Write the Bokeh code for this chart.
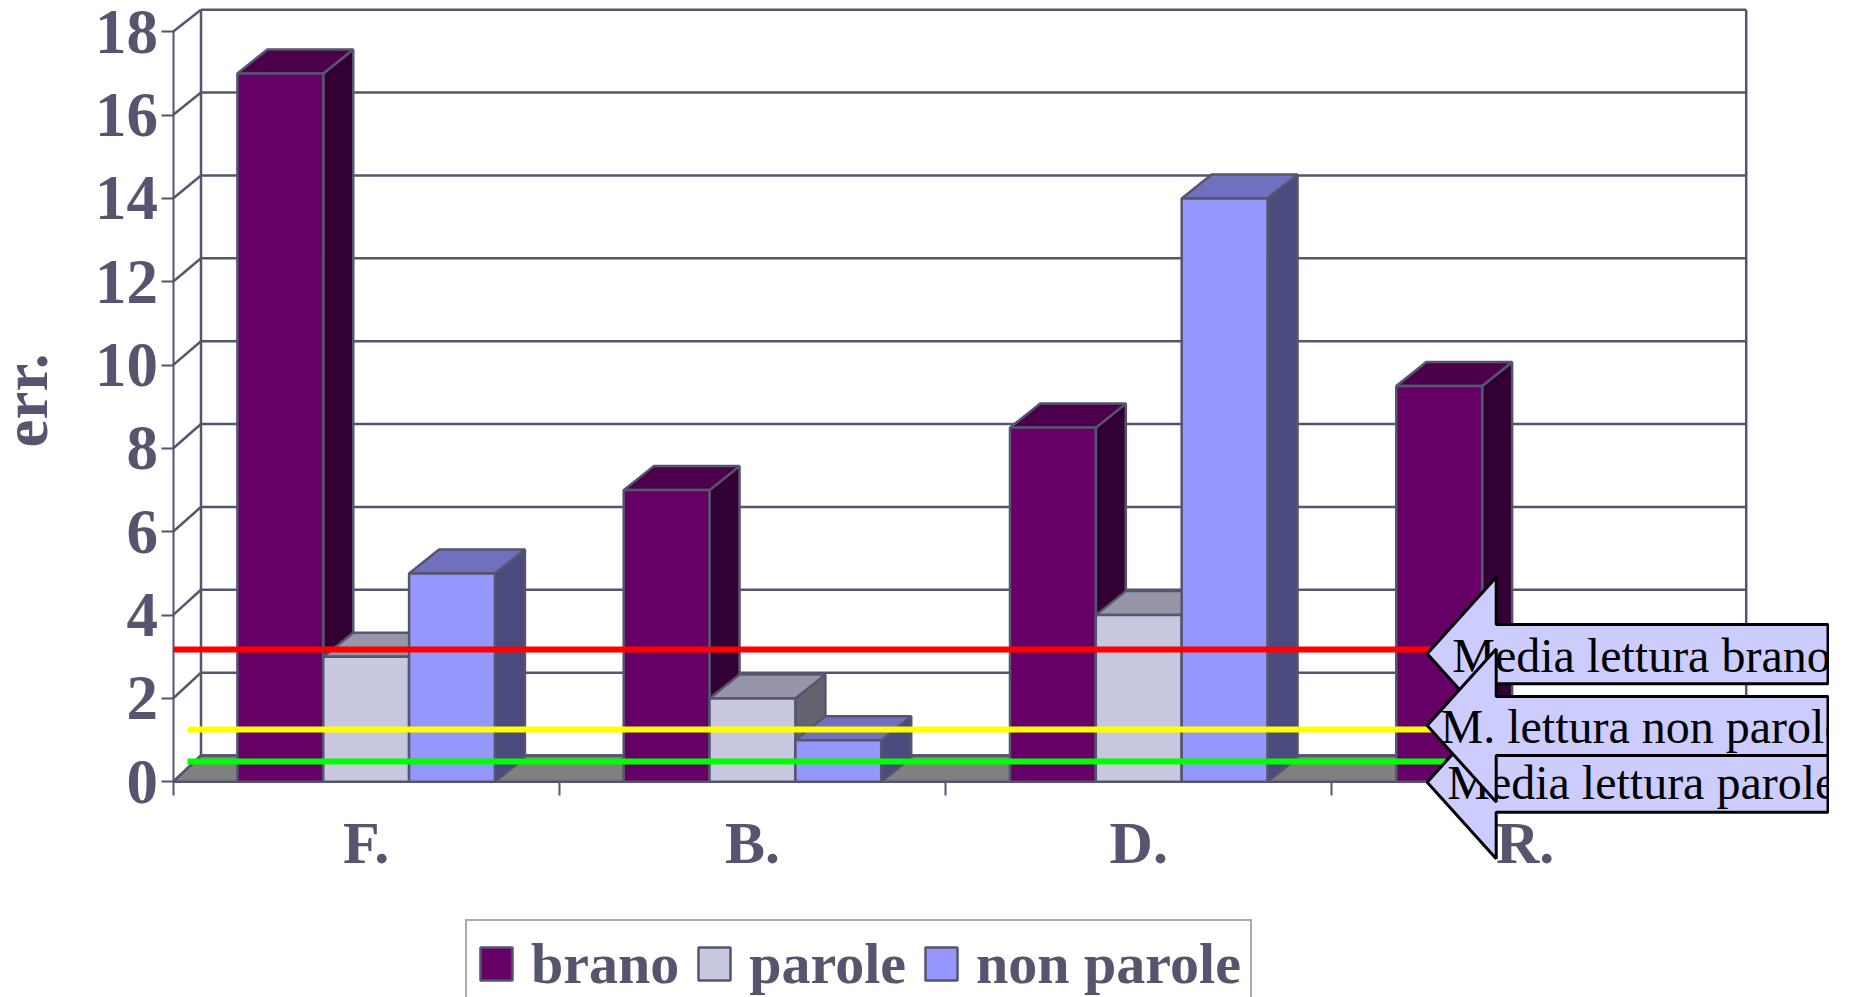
import math
from bokeh.plotting import figure
from bokeh.models import FixedTicker, Legend, LegendItem, Range1d
from bokeh.core.properties import value
from bokeh.embed import file_html
from bokeh.resources import INLINE

categories = ["F.", "B.", "D.", "R."]
series_names = ["brano", "parole", "non parole"]
brano = [17, 7, 8.5, 9.5]
parole = [3, 2, 4, 0]
non_parole = [5, 1, 14, 0]
y_ticks = list(range(0, 20, 2))
y_title = "err."
ref_names = ["Media lettura brano", "M. lettura non parole", "Media lettura parole"]
ref_values = [3.175, 1.255, 0.487]
ref_colors = ["#FF0000", "#FFFF00", "#00FF00"]
front_colors = ["#660066", "#C7C7DF", "#9696FF"]
top_colors = ["#4C004C", "#9696A8", "#7070BF"]
side_colors = ["#330033", "#646470", "#4B4B7F"]
INK = "#55556F"
FONT = "Liberation Serif"

# pixel frame of the page -> data scale
PX_X0, PX_Y0, PX_PER_CAT, PX_PER_VAL = 172.5, 781.3, 386.3, 41.67
W, H = 1829, 997
def dx(px): return px / PX_PER_CAT
def dy(px): return px / PX_PER_VAL
def X(px): return (px - PX_X0) / PX_PER_CAT
def Y(px): return (PX_Y0 - px) / PX_PER_VAL

p = figure(width=W, height=H, output_backend="svg", toolbar_location=None,
           x_range=Range1d(X(0), X(W)), y_range=Range1d(Y(H), Y(0)),
           min_border=0, outline_line_color=None, background_fill_color="white",
           border_fill_color="white")
p.grid.visible = False

# axes
ya = p.yaxis[0]
xa = p.xaxis[0]
ya.fixed_location = 0
ya.bounds = (0, 18)
ya.ticker = FixedTicker(ticks=y_ticks, minor_ticks=[])
ya.major_tick_in = 0
ya.major_tick_out = 12
ya.major_label_standoff = 3
for a in (ya, xa):
    a.level = "underlay"
    a.axis_line_color = INK
    a.axis_line_width = 2
    a.major_tick_line_color = INK
    a.major_tick_line_width = 2
    a.major_label_text_color = INK
    a.major_label_text_font = FONT
    a.major_label_text_font_style = "bold"
    a.major_label_text_font_size = "60px"
ya.major_label_text_font_size = "63px"
xa.fixed_location = 0
xa.bounds = (0, 4)
centers = [i + 0.5 for i in range(len(categories))]
xa.ticker = FixedTicker(ticks=centers, minor_ticks=list(range(len(categories) + 1)))
xa.major_label_overrides = {c: n for c, n in zip(centers, categories)}
xa.major_tick_in = 0
xa.major_tick_out = 0
xa.minor_tick_in = 0
xa.minor_tick_out = 14
xa.minor_tick_line_color = INK
xa.minor_tick_line_width = 2
xa.major_label_standoff = 14

p.text([X(25)], [Y(400)], text=[y_title], angle=math.pi / 2, text_font=value(FONT),
       text_font_style="bold", text_font_size="63px", text_color=INK,
       text_align="center", text_baseline="middle")

# back walls and floor (depth offset in pixels)
wall_dx = dx(28)
def back(v):
    return 0.631 + 0.9943 * v
xr = len(categories)
p.patch([0, wall_dx, xr + wall_dx, xr], [0, back(0), back(0), 0],
        fill_color="#808080", line_color=INK, line_width=2.5)
p.segment([wall_dx] * len(y_ticks), [back(v) for v in y_ticks],
          [xr + wall_dx] * len(y_ticks), [back(v) for v in y_ticks],
          line_color=INK, line_width=2.5)
p.segment([0] * len(y_ticks), y_ticks, [wall_dx] * len(y_ticks), [back(v) for v in y_ticks],
          line_color=INK, line_width=2.5)
p.segment([wall_dx, xr + wall_dx], [back(0)] * 2, [wall_dx, xr + wall_dx], [back(18)] * 2,
          line_color=INK, line_width=2.5)

# bars
bar_w = 2 / 9
gap = 1 / 6
bdx, bdy = dx(30), dy(24)
items = []
for j, (name, vals) in enumerate(zip(series_names, [brano, parole, non_parole])):
    lefts = [i + gap + j * bar_w for i in range(len(vals))]
    rights = [l + bar_w for l in lefts]
    p.patches([[r, r + bdx, r + bdx, r] for r in rights],
              [[0, bdy, v + bdy, v] for v in vals],
              fill_color=side_colors[j], line_color=INK, line_width=2.5)
    p.patches([[l, r, r + bdx, l + bdx] for l, r in zip(lefts, rights)],
              [[v, v, v + bdy, v + bdy] for v in vals],
              fill_color=top_colors[j], line_color=INK, line_width=2.5)
    front = p.quad(left=lefts, right=rights, bottom=[0] * len(vals), top=vals,
                   fill_color=front_colors[j], line_color=INK, line_width=2.5)
    items.append(LegendItem(label=name, renderers=[front]))

# reference lines
line_starts = [0.0, X(187), X(187)]
for v, c, s in zip(ref_values, ref_colors, line_starts):
    p.line([s, X(1445)], [v, v], line_color=c, line_width=6)

# callouts: brano first, parole next, non parole on top
def callout(tip_y, top, bottom, txt, tx, baseline):
    tip = X(1426.7)
    base = X(1495.7)
    end = X(1827.5)
    half = 76.5
    xs = [tip, base, base, end, end, base, base]
    ys = [Y(tip_y), Y(tip_y - half), Y(top), Y(top), Y(bottom), Y(bottom), Y(tip_y + half)]
    p.patch(xs, ys, fill_color="#CCCCFF", line_color="black", line_width=3)
    p.text([X(tx)], [Y(baseline - 16.5)], text=[txt], text_font=value(FONT), text_font_size="48px",
           text_color="black", text_baseline="alphabetic", text_align="left")

callout(653.3, 624, 683.3, ref_names[0], 1451.7, 671.7)
callout(781.7, 755, 811.7, ref_names[2], 1446.7, 798.5)
callout(725, 696, 755, ref_names[1], 1440, 742)

legend = Legend(items=items, orientation="horizontal", location=(465, -11),
                glyph_width=40, glyph_height=41, label_standoff=15, spacing=15, padding=9,
                margin=0, border_line_color=INK, border_line_width=2.5,
                background_fill_color="white", background_fill_alpha=1,
                label_text_font=FONT, label_text_font_style="bold",
                label_text_font_size="58px", label_text_color=INK)
p.add_layout(legend, "center")

open("out.html", "w").write(file_html(p, INLINE))
